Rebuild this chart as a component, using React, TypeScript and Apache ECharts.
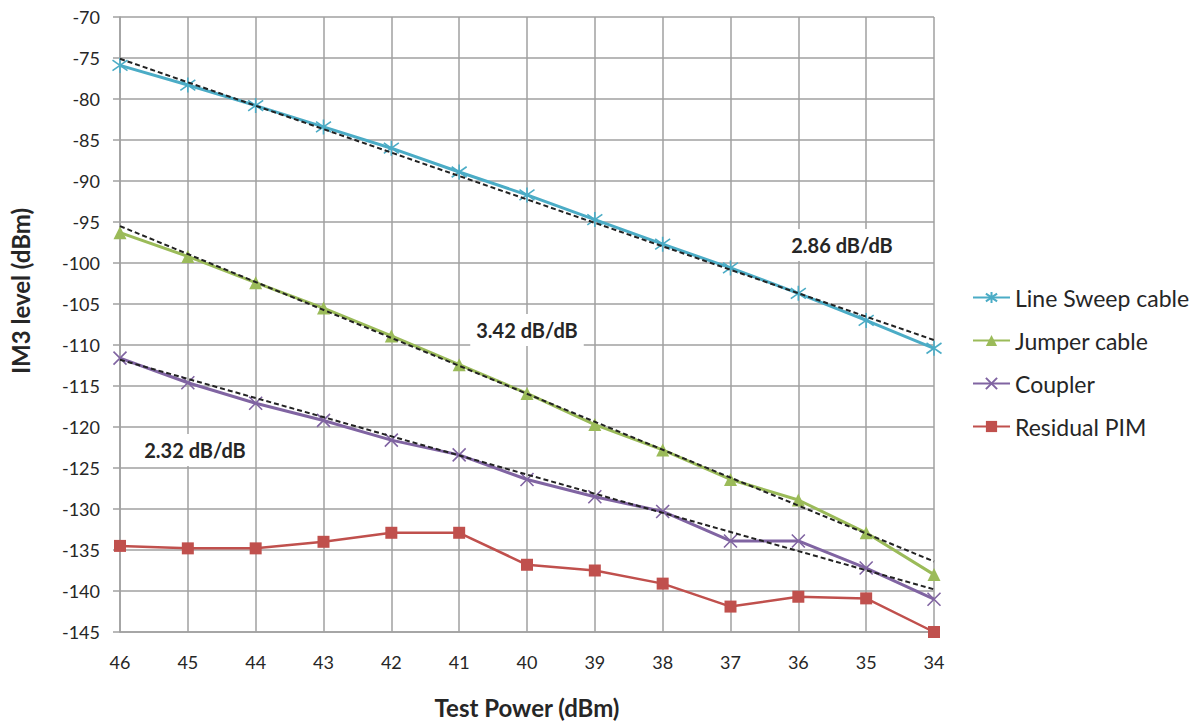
import React, { useEffect, useRef } from "react";
import * as echarts from "echarts";

const categories = ["46", "45", "44", "43", "42", "41", "40", "39", "38", "37", "36", "35", "34"];
const lineSweep = [-75.9, -78.3, -80.8, -83.4, -86.0, -88.9, -91.7, -94.7, -97.7, -100.6, -103.7, -107.0, -110.4];
const jumper = [-96.3, -99.2, -102.4, -105.5, -108.9, -112.4, -115.9, -119.7, -122.8, -126.4, -128.9, -132.9, -138.0];
const coupler = [-111.6, -114.6, -117.1, -119.2, -121.6, -123.4, -126.4, -128.5, -130.3, -133.9, -133.9, -137.2, -141.0];
const residual = [-134.5, -134.8, -134.8, -134.0, -132.9, -132.9, -136.8, -137.5, -139.1, -141.9, -140.7, -140.9, -145.0];
// trend line end points (at 46 and 34 dBm)
const lineSweepTrend = [-75.1, -109.4];
const jumperTrend = [-95.5, -136.4];
const couplerTrend = [-111.8, -139.8];
const slopeLabels = ["2.86 dB/dB", "3.42 dB/dB", "2.32 dB/dB"];
const seriesNames = ["Line Sweep cable", "Jumper cable", "Coupler", "Residual PIM"];
const xTitle = "Test Power (dBm)";
const yTitle = "IM3 level (dBm)";

const FONT = "Lato, 'Open Sans', sans-serif";
const TEXT = "#262626";

export default function App() {
  const ref = useRef<HTMLDivElement>(null);
  useEffect(() => {
    if (!ref.current) return;
    const chart = echarts.init(ref.current, null, { renderer: "svg" });
    const starPath = "path://M5,0L5,10M0,1.5L10,8.5M10,1.5L0,8.5";
    const xPath = "path://M0,0L10,10M10,0L0,10";
    const colors = ["#4BACC6", "#9BBB59", "#8064A2", "#C0504D"];
    const mk = (name: string, data: number[], color: string, symbol: string, size: number, stroke: boolean, width: number) => ({
      name,
      type: "line",
      data,
      symbol,
      symbolSize: size,
      showSymbol: true,
      lineStyle: { color, width },
      itemStyle: stroke ? { color, borderColor: color, borderWidth: 1.6 } : { color },
      z: 3,
    });
    const trend = (name: string, ends: number[]) => ({
      name,
      type: "line",
      data: [[categories[0], ends[0]], [categories[categories.length - 1], ends[1]]],
      symbol: "none",
      lineStyle: { color: "#222", width: 2, type: [5, 3] },
      z: 4,
      silent: true,
    });
    const labelStyle = (text: string, x: number, y: number) => ({
      type: "text",
      x,
      y,
      z: 1,
      style: {
        text,
        font: `bold 20px ${FONT}`,
        fill: TEXT,
        align: "center",
        verticalAlign: "middle",
        backgroundColor: "#fff",
        padding: [6, 6],
      },
    });
    chart.setOption({
      animation: false,
      backgroundColor: "#fff",
      textStyle: { fontFamily: FONT },
      grid: { left: 120, right: 270, top: 17, bottom: 89, outerBoundsMode: "none", containLabel: false },
      legend: {
        data: seriesNames,
        orient: "vertical",
        left: 967,
        top: 281,
        itemWidth: 37,
        itemHeight: 14,
        itemGap: 20,
        textStyle: { fontSize: 23, color: TEXT, fontFamily: FONT, lineHeight: 23 },
      },
      xAxis: {
        type: "category",
        data: categories,
        boundaryGap: false,
        name: xTitle,
        nameLocation: "middle",
        nameGap: 63,
        nameTextStyle: { fontSize: 24, fontWeight: "bold", color: TEXT, fontFamily: FONT },
        axisLine: { lineStyle: { color: "#A0A0A0", width: 1.5 } },
        axisTick: { show: false },
        axisLabel: { fontSize: 18, color: TEXT, margin: 21, fontFamily: FONT },
        splitLine: { show: true, lineStyle: { color: "#A0A0A0", width: 1.5 } },
      },
      yAxis: {
        type: "value",
        min: -145,
        max: -70,
        interval: 5,
        axisLine: { show: true, lineStyle: { color: "#A0A0A0", width: 1.5 } },
        axisTick: { show: true, length: 7, lineStyle: { color: "#A0A0A0", width: 1.5 } },
        axisLabel: { fontSize: 18, color: TEXT, margin: 20, fontFamily: FONT },
        splitLine: { show: true, lineStyle: { color: "#A0A0A0", width: 1.5 } },
      },
      series: [
        mk(seriesNames[0], lineSweep, colors[0], starPath, 15, true, 3),
        mk(seriesNames[1], jumper, colors[1], "triangle", 13, false, 3),
        mk(seriesNames[2], coupler, colors[2], xPath, 13, true, 3),
        mk(seriesNames[3], residual, colors[3], "rect", 12, false, 2.5),
        trend("trend1", lineSweepTrend),
        trend("trend2", jumperTrend),
        trend("trend3", couplerTrend),
      ],
      graphic: [
        labelStyle(slopeLabels[0], 842, 245),
        labelStyle(slopeLabels[1], 527, 330),
        labelStyle(slopeLabels[2], 195, 450),
        {
          type: "text",
          x: 20,
          y: 291,
          rotation: Math.PI / 2,
          style: {
            text: yTitle,
            font: `bold 24px ${FONT}`,
            fill: TEXT,
            align: "center",
            verticalAlign: "middle",
          },
        },
      ],
    });
    return () => chart.dispose();
  }, []);
  return <div ref={ref} style={{ position: "absolute", left: 0, top: 0, width: 1204, height: 721 }} />;
}
